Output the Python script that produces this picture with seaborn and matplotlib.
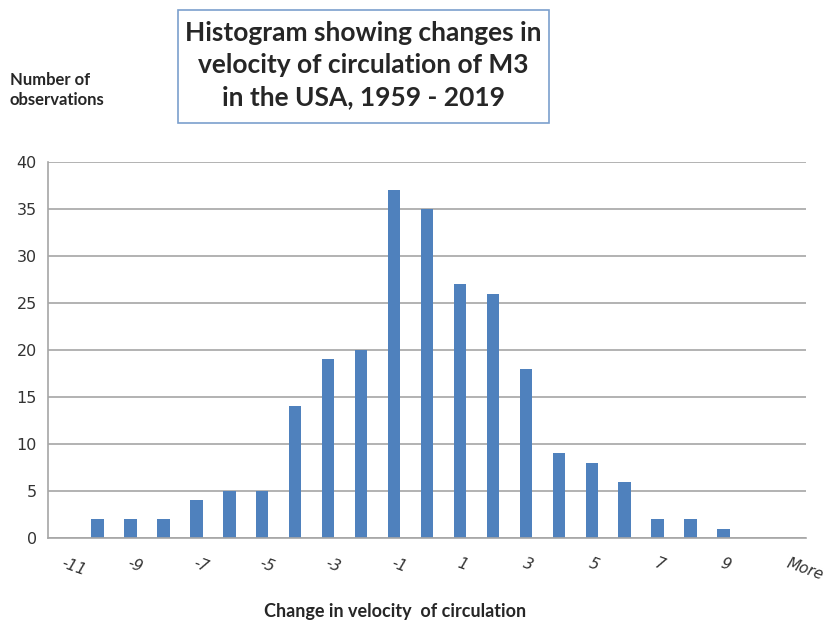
"""
Histogram of changes in velocity of circulation of M3 in the USA, 1959 - 2019.
"""

import pandas as pd
import seaborn as sns
import matplotlib.pyplot as plt
from matplotlib.patches import Rectangle

# Data
BINS = [str(b) for b in range(-11, 11)] + ["More"]
COUNTS = [0, 2, 2, 2, 4, 5, 5, 14, 19, 20, 37, 35, 27, 26, 18, 9, 8, 6, 2, 2, 1, 0, 0]
TICK_LABELS = ["-11", "-9", "-7", "-5", "-3", "-1", "1", "3", "5", "7", "9", "More"]
Y_TICKS = [0, 5, 10, 15, 20, 25, 30, 35, 40]

BAR_COLOR = "#4F81BD"
GRID_COLOR = "#A6A6A6"


def main():
    sns.set_style("white")
    plt.rcParams["font.family"] = ["DejaVu Sans"]

    df = pd.DataFrame({"bin": BINS, "count": COUNTS})

    fig = plt.figure(figsize=(8.33, 6.21), dpi=100)
    ax = fig.add_axes([0.0576, 0.1337, 0.9100, 0.6053])

    sns.barplot(data=df, x="bin", y="count", order=BINS, color=BAR_COLOR,
                width=0.38, saturation=1, linewidth=0, ax=ax)

    ax.set_xlim(-0.5, len(BINS) - 0.5)
    ax.set_ylim(0, 40)
    ax.set_yticks(Y_TICKS)
    ax.yaxis.grid(True, color=GRID_COLOR, linewidth=1.2)
    ax.set_axisbelow(True)

    # Labels on every other category, tick marks between categories
    label_pos = list(range(0, len(BINS), 2))
    ax.set_xticks(label_pos)
    ax.set_xticklabels(TICK_LABELS, rotation=-20, ha="left",
                       rotation_mode="anchor", fontstyle="italic",
                       fontsize=11, color="#333333")
    ax.set_xticks([i - 0.5 for i in range(len(BINS) + 1)], minor=True)
    ax.tick_params(axis="x", which="major", length=0, pad=13)
    ax.tick_params(axis="x", which="minor", length=5, color=GRID_COLOR, width=1.2)
    ax.tick_params(axis="y", length=5, color=GRID_COLOR, width=1.2,
                   labelsize=11.5, labelcolor="#333333", pad=3)

    for side in ["top", "right"]:
        ax.spines[side].set_visible(False)
    for side in ["left", "bottom"]:
        ax.spines[side].set_color(GRID_COLOR)
        ax.spines[side].set_linewidth(1.2)

    ax.set_xlabel("")
    ax.set_ylabel("")

    # Axis titles placed like the original
    fig.text(0.012, 0.855, "Number of\nobservations", fontsize=12,
             fontweight="bold", family=["Lato", "DejaVu Sans"], va="center",
             linespacing=1.35)
    fig.text(0.474, 0.015, "Change in velocity  of circulation", fontsize=13,
             fontweight="bold", family=["Lato", "DejaVu Sans"], ha="center",
             va="center")

    # Boxed title
    box = Rectangle((178 / 833, 1 - 123 / 621), (549 - 178) / 833, 113 / 621,
                    transform=fig.transFigure, facecolor="white",
                    edgecolor="#7BA0CD", linewidth=1.2)
    fig.patches.append(box)
    fig.text(363 / 833, 1 - 65 / 621,
             "Histogram showing changes in\nvelocity of circulation of M3\n"
             "in the USA, 1959 - 2019",
             fontsize=19, fontweight="bold", family=["Lato", "DejaVu Sans"],
             ha="center", va="center", linespacing=1.42)

    fig.savefig("out.png", dpi=100)
    plt.close(fig)


if __name__ == "__main__":
    main()
